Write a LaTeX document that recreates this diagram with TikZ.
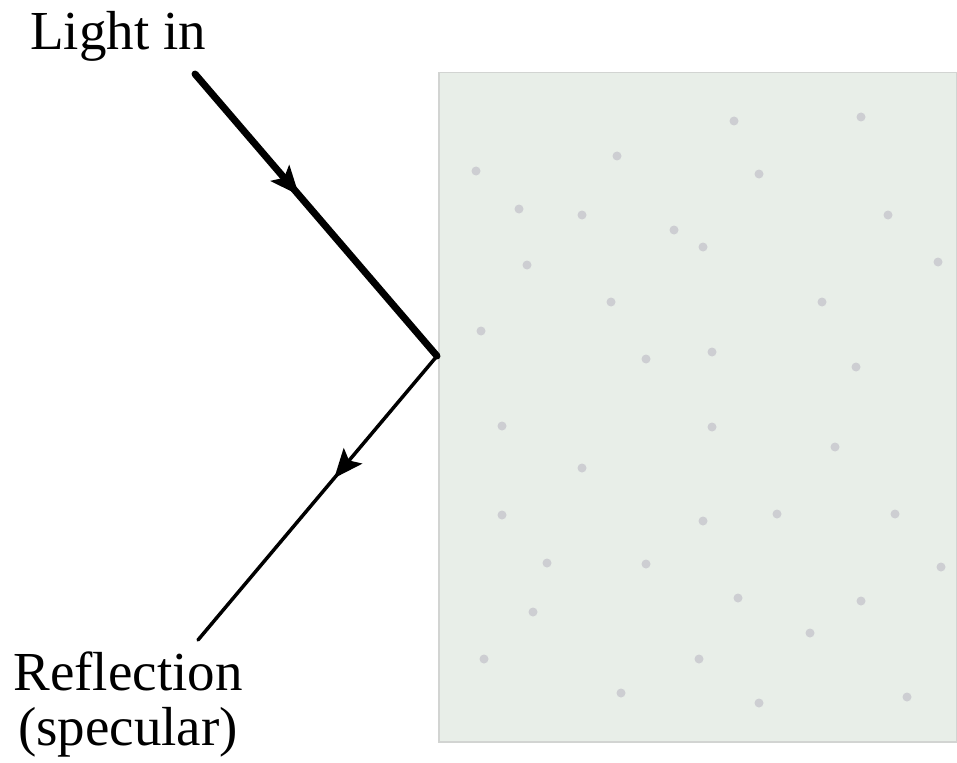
\documentclass[tikz,border=0pt]{standalone}
\usepackage{fontspec}
\setmainfont{Liberation Serif}
\usetikzlibrary{arrows.meta,decorations.markings}
\definecolor{slab}{HTML}{E8EEE8}
\definecolor{slabedge}{HTML}{D2D4D2}
\definecolor{speck}{HTML}{CDCED2}
\tikzset{
  lbl/.style={font=\fontsize{55}{55}\selectfont, inner sep=0pt, align=center},
  ray/.style={line cap=round, line join=round},
  midarrow/.style={postaction={decorate}, decoration={markings,
     mark=at position #1 with {\arrow{Stealth[length=29pt,width=24pt,inset=6pt]}}}},
  dot/.style={fill=speck, draw=none}
}
\begin{document}
\begin{tikzpicture}[x=1pt,y=-1pt]
\useasboundingbox (0,0) rectangle (957,762);
\node[draw=slabedge, line width=1.5pt, fill=slab, minimum width=518pt, minimum height=669pt, inner sep=0pt, anchor=north west] (slab) at (438,72) {};
\foreach \px/\py in {734/121,861/117,476/171,617/156,759/174,519/209,582/215,674/230,703/247,888/215,527/265,938/262,611/302,822/302,481/331,646/359,712/352,856/367,502/426,712/427,835/447,582/468,502/515,703/521,777/514,895/514,547/563,646/564,941/567,738/598,861/601,533/612,810/633,484/659,699/659,621/693,759/703,907/697}
  \fill[dot] (\px,\py) circle (4.5pt);
\node[lbl, anchor=base] (in) at (118,50) {Light in};
\node[lbl, anchor=base] (refl) at (128,745) {Reflection\\(specular)};
\coordinate (start) at (195,74);
\coordinate (hit) at (437,356);
\coordinate (out) at (198,640);
\draw[ray, line width=7pt, midarrow=0.43] (start) -- (hit);
\draw[ray, line width=3.5pt, midarrow=0.43] (hit) -- (out);
\end{tikzpicture}
\end{document}
